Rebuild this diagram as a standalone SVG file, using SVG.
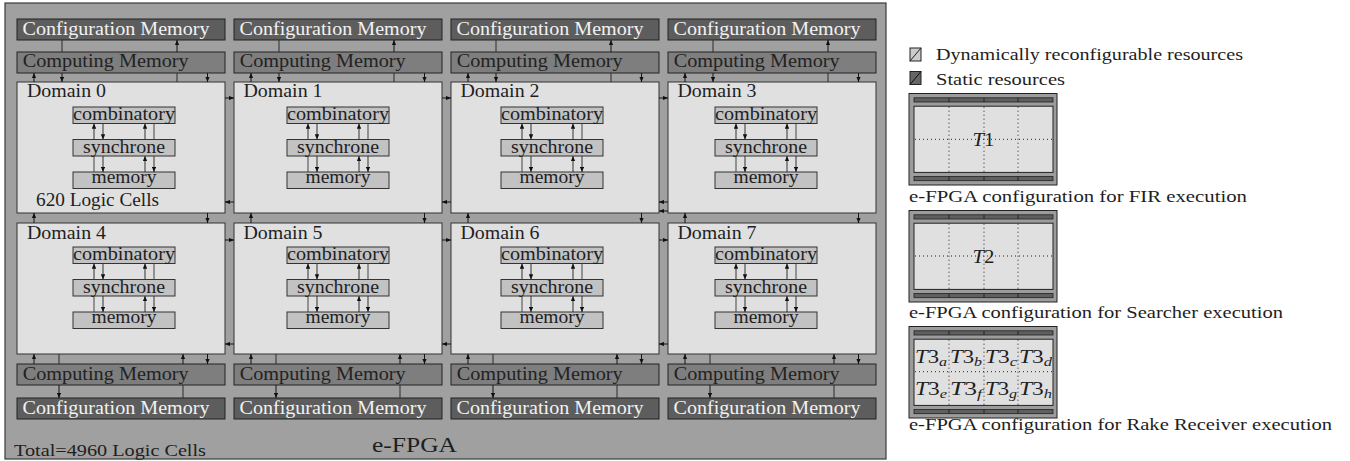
<svg xmlns="http://www.w3.org/2000/svg" xmlns:xlink="http://www.w3.org/1999/xlink" width="1350" height="461" viewBox="0 0 1350 461" font-family="'Liberation Serif', 'DejaVu Serif', serif">
<style>
text{font-family:'Liberation Serif','DejaVu Serif',serif;fill:#1e1e1e}
.efpga{fill:#a0a0a0;stroke:#3a3a3a;stroke-width:1.2}
.cfg{fill:#5d5d5d;stroke:#222;stroke-width:1}
.cmp{fill:#7e7e7e;stroke:#222;stroke-width:1}
.dom{fill:#e0e0e0;stroke:#333;stroke-width:1}
.blk{fill:#c2c2c2;stroke:#333;stroke-width:1}
.tcfg{fill:#f2f2f2;font-size:18.5px}
.tcmp{fill:#222;font-size:18.5px}
.tdom{font-size:18.5px}
.tblk{font-size:18px}
.tleg{font-size:16.5px}
.t3{font-size:18.5px}
.a{stroke:#151515;stroke-width:1;marker-end:url(#ah)}
.p{stroke:#2a2a2a;stroke-width:1}
.ia{stroke:#333;stroke-width:1;marker-end:url(#ah)}
.ip{stroke:#444;stroke-width:1}
.tb{fill:#9c9c9c;stroke:#222;stroke-width:1}
.ts{fill:#5f5f5f;stroke:#222;stroke-width:0.8}
.tm{fill:#e0e0e0;stroke:#222;stroke-width:1}
.dot{stroke:#222;stroke-width:1;stroke-dasharray:1 3}
.tick{stroke:#222;stroke-width:1}
</style>
<defs>
<marker id="ah" viewBox="0 0 6 5" refX="6" refY="2.5" markerWidth="5.5" markerHeight="4.4" markerUnits="userSpaceOnUse" orient="auto"><path d="M0,0 L6,2.5 L0,5 z" fill="#111"/></marker>
<g id="inner">
<line x1="21" y1="65" x2="21" y2="49" class="ip"/>
<line x1="21" y1="32.5" x2="21" y2="16.5" class="ia"/>
<line x1="30" y1="16.5" x2="30" y2="32.5" class="ia"/>
<line x1="30" y1="49" x2="30" y2="65" class="ia"/>
<line x1="72" y1="32.5" x2="72" y2="16.5" class="ia"/>
<line x1="72" y1="65" x2="72" y2="49" class="ia"/>
<line x1="81" y1="16.5" x2="81" y2="32.5" class="ip"/>
<line x1="81" y1="49" x2="81" y2="65" class="ia"/>
</g>
<g id="tstrips">
<rect x="914" y="4.3" width="139" height="4.2" class="ts"/>
<rect x="914" y="83" width="139" height="4.2" class="ts"/>
<line x1="949" y1="4.3" x2="949" y2="8.5" class="tick"/><line x1="984" y1="4.3" x2="984" y2="8.5" class="tick"/><line x1="1018" y1="4.3" x2="1018" y2="8.5" class="tick"/>
<line x1="949" y1="83" x2="949" y2="87.2" class="tick"/><line x1="984" y1="83" x2="984" y2="87.2" class="tick"/><line x1="1018" y1="83" x2="1018" y2="87.2" class="tick"/>
</g>
</defs>

<g id="efpga">
<rect x="5" y="3" width="881" height="456" class="efpga"/>
<text x="14" y="456" font-size="17" textLength="192" lengthAdjust="spacingAndGlyphs">Total=4960 Logic Cells</text>
<text x="372" y="452" font-size="22" textLength="85" lengthAdjust="spacingAndGlyphs">e-FPGA</text>
</g>

<g id="cfg-top-0"><rect x="17" y="19" width="208" height="21" class="cfg"/><text x="22.5" y="34.5" class="tcfg" textLength="187" lengthAdjust="spacingAndGlyphs">Configuration Memory</text></g>
<g id="cfg-top-1"><rect x="234" y="19" width="208" height="21" class="cfg"/><text x="239.5" y="34.5" class="tcfg" textLength="187" lengthAdjust="spacingAndGlyphs">Configuration Memory</text></g>
<g id="cfg-top-2"><rect x="451" y="19" width="208" height="21" class="cfg"/><text x="456.5" y="34.5" class="tcfg" textLength="187" lengthAdjust="spacingAndGlyphs">Configuration Memory</text></g>
<g id="cfg-top-3"><rect x="668" y="19" width="208" height="21" class="cfg"/><text x="673.5" y="34.5" class="tcfg" textLength="187" lengthAdjust="spacingAndGlyphs">Configuration Memory</text></g>
<g id="cmp-top-0"><rect x="17" y="52" width="208" height="21" class="cmp"/><text x="22.7" y="67" class="tcmp" textLength="166" lengthAdjust="spacingAndGlyphs">Computing Memory</text></g>
<g id="cmp-top-1"><rect x="234" y="52" width="208" height="21" class="cmp"/><text x="239.7" y="67" class="tcmp" textLength="166" lengthAdjust="spacingAndGlyphs">Computing Memory</text></g>
<g id="cmp-top-2"><rect x="451" y="52" width="208" height="21" class="cmp"/><text x="456.7" y="67" class="tcmp" textLength="166" lengthAdjust="spacingAndGlyphs">Computing Memory</text></g>
<g id="cmp-top-3"><rect x="668" y="52" width="208" height="21" class="cmp"/><text x="673.7" y="67" class="tcmp" textLength="166" lengthAdjust="spacingAndGlyphs">Computing Memory</text></g>
<g id="cmp-bot-4"><rect x="17" y="364" width="208" height="21" class="cmp"/><text x="22.7" y="380" class="tcmp" textLength="166" lengthAdjust="spacingAndGlyphs">Computing Memory</text></g>
<g id="cmp-bot-5"><rect x="234" y="364" width="208" height="21" class="cmp"/><text x="239.7" y="380" class="tcmp" textLength="166" lengthAdjust="spacingAndGlyphs">Computing Memory</text></g>
<g id="cmp-bot-6"><rect x="451" y="364" width="208" height="21" class="cmp"/><text x="456.7" y="380" class="tcmp" textLength="166" lengthAdjust="spacingAndGlyphs">Computing Memory</text></g>
<g id="cmp-bot-7"><rect x="668" y="364" width="208" height="21" class="cmp"/><text x="673.7" y="380" class="tcmp" textLength="166" lengthAdjust="spacingAndGlyphs">Computing Memory</text></g>
<g id="cfg-bot-4"><rect x="17" y="398" width="208" height="21" class="cfg"/><text x="22.5" y="413.5" class="tcfg" textLength="187" lengthAdjust="spacingAndGlyphs">Configuration Memory</text></g>
<g id="cfg-bot-5"><rect x="234" y="398" width="208" height="21" class="cfg"/><text x="239.5" y="413.5" class="tcfg" textLength="187" lengthAdjust="spacingAndGlyphs">Configuration Memory</text></g>
<g id="cfg-bot-6"><rect x="451" y="398" width="208" height="21" class="cfg"/><text x="456.5" y="413.5" class="tcfg" textLength="187" lengthAdjust="spacingAndGlyphs">Configuration Memory</text></g>
<g id="cfg-bot-7"><rect x="668" y="398" width="208" height="21" class="cfg"/><text x="673.5" y="413.5" class="tcfg" textLength="187" lengthAdjust="spacingAndGlyphs">Configuration Memory</text></g>

<g id="domain-0"><rect x="17" y="82" width="208" height="131" class="dom"/><text x="27" y="97" class="tdom" textLength="79" lengthAdjust="spacingAndGlyphs">Domain 0</text><text x="36" y="206" class="tdom" textLength="123" lengthAdjust="spacingAndGlyphs">620 Logic Cells</text>
<rect x="73" y="107" width="102" height="16.5" class="blk"/><text x="124" y="120.3" text-anchor="middle" class="tblk" textLength="102" lengthAdjust="spacingAndGlyphs">combinatory</text>
<rect x="73" y="139.5" width="102" height="16.5" class="blk"/><text x="124" y="152.7" text-anchor="middle" class="tblk" textLength="82" lengthAdjust="spacingAndGlyphs">synchrone</text>
<rect x="73" y="172" width="102" height="16.5" class="blk"/><text x="124" y="183.3" text-anchor="middle" class="tblk" textLength="65" lengthAdjust="spacingAndGlyphs">memory</text></g>
<g id="domain-1"><rect x="234" y="82" width="208" height="131" class="dom"/><text x="243.5" y="97" class="tdom" textLength="79" lengthAdjust="spacingAndGlyphs">Domain 1</text>
<rect x="287" y="107" width="102" height="16.5" class="blk"/><text x="338" y="120.3" text-anchor="middle" class="tblk" textLength="102" lengthAdjust="spacingAndGlyphs">combinatory</text>
<rect x="287" y="139.5" width="102" height="16.5" class="blk"/><text x="338" y="152.7" text-anchor="middle" class="tblk" textLength="82" lengthAdjust="spacingAndGlyphs">synchrone</text>
<rect x="287" y="172" width="102" height="16.5" class="blk"/><text x="338" y="183.3" text-anchor="middle" class="tblk" textLength="65" lengthAdjust="spacingAndGlyphs">memory</text></g>
<g id="domain-2"><rect x="451" y="82" width="208" height="131" class="dom"/><text x="460.5" y="97" class="tdom" textLength="79" lengthAdjust="spacingAndGlyphs">Domain 2</text>
<rect x="501" y="107" width="102" height="16.5" class="blk"/><text x="552" y="120.3" text-anchor="middle" class="tblk" textLength="102" lengthAdjust="spacingAndGlyphs">combinatory</text>
<rect x="501" y="139.5" width="102" height="16.5" class="blk"/><text x="552" y="152.7" text-anchor="middle" class="tblk" textLength="82" lengthAdjust="spacingAndGlyphs">synchrone</text>
<rect x="501" y="172" width="102" height="16.5" class="blk"/><text x="552" y="183.3" text-anchor="middle" class="tblk" textLength="65" lengthAdjust="spacingAndGlyphs">memory</text></g>
<g id="domain-3"><rect x="668" y="82" width="208" height="131" class="dom"/><text x="677.5" y="97" class="tdom" textLength="79" lengthAdjust="spacingAndGlyphs">Domain 3</text>
<rect x="715" y="107" width="102" height="16.5" class="blk"/><text x="766" y="120.3" text-anchor="middle" class="tblk" textLength="102" lengthAdjust="spacingAndGlyphs">combinatory</text>
<rect x="715" y="139.5" width="102" height="16.5" class="blk"/><text x="766" y="152.7" text-anchor="middle" class="tblk" textLength="82" lengthAdjust="spacingAndGlyphs">synchrone</text>
<rect x="715" y="172" width="102" height="16.5" class="blk"/><text x="766" y="183.3" text-anchor="middle" class="tblk" textLength="65" lengthAdjust="spacingAndGlyphs">memory</text></g>
<g id="domain-4"><rect x="17" y="223" width="208" height="131" class="dom"/><text x="27" y="239" class="tdom" textLength="79" lengthAdjust="spacingAndGlyphs">Domain 4</text>
<rect x="73" y="247" width="102" height="16.5" class="blk"/><text x="124" y="260.3" text-anchor="middle" class="tblk" textLength="102" lengthAdjust="spacingAndGlyphs">combinatory</text>
<rect x="73" y="279.5" width="102" height="16.5" class="blk"/><text x="124" y="292.7" text-anchor="middle" class="tblk" textLength="82" lengthAdjust="spacingAndGlyphs">synchrone</text>
<rect x="73" y="312" width="102" height="16.5" class="blk"/><text x="124" y="323.3" text-anchor="middle" class="tblk" textLength="65" lengthAdjust="spacingAndGlyphs">memory</text></g>
<g id="domain-5"><rect x="234" y="223" width="208" height="131" class="dom"/><text x="243.5" y="239" class="tdom" textLength="79" lengthAdjust="spacingAndGlyphs">Domain 5</text>
<rect x="287" y="247" width="102" height="16.5" class="blk"/><text x="338" y="260.3" text-anchor="middle" class="tblk" textLength="102" lengthAdjust="spacingAndGlyphs">combinatory</text>
<rect x="287" y="279.5" width="102" height="16.5" class="blk"/><text x="338" y="292.7" text-anchor="middle" class="tblk" textLength="82" lengthAdjust="spacingAndGlyphs">synchrone</text>
<rect x="287" y="312" width="102" height="16.5" class="blk"/><text x="338" y="323.3" text-anchor="middle" class="tblk" textLength="65" lengthAdjust="spacingAndGlyphs">memory</text></g>
<g id="domain-6"><rect x="451" y="223" width="208" height="131" class="dom"/><text x="460.5" y="239" class="tdom" textLength="79" lengthAdjust="spacingAndGlyphs">Domain 6</text>
<rect x="501" y="247" width="102" height="16.5" class="blk"/><text x="552" y="260.3" text-anchor="middle" class="tblk" textLength="102" lengthAdjust="spacingAndGlyphs">combinatory</text>
<rect x="501" y="279.5" width="102" height="16.5" class="blk"/><text x="552" y="292.7" text-anchor="middle" class="tblk" textLength="82" lengthAdjust="spacingAndGlyphs">synchrone</text>
<rect x="501" y="312" width="102" height="16.5" class="blk"/><text x="552" y="323.3" text-anchor="middle" class="tblk" textLength="65" lengthAdjust="spacingAndGlyphs">memory</text></g>
<g id="domain-7"><rect x="668" y="223" width="208" height="131" class="dom"/><text x="677.5" y="239" class="tdom" textLength="79" lengthAdjust="spacingAndGlyphs">Domain 7</text>
<rect x="715" y="247" width="102" height="16.5" class="blk"/><text x="766" y="260.3" text-anchor="middle" class="tblk" textLength="102" lengthAdjust="spacingAndGlyphs">combinatory</text>
<rect x="715" y="279.5" width="102" height="16.5" class="blk"/><text x="766" y="292.7" text-anchor="middle" class="tblk" textLength="82" lengthAdjust="spacingAndGlyphs">synchrone</text>
<rect x="715" y="312" width="102" height="16.5" class="blk"/><text x="766" y="323.3" text-anchor="middle" class="tblk" textLength="65" lengthAdjust="spacingAndGlyphs">memory</text></g>

<g id="connectors">
<line x1="62" y1="40" x2="62" y2="52" class="p"/><line x1="177" y1="52" x2="177" y2="40" class="a"/>
<line x1="34" y1="82" x2="34" y2="73" class="a"/><line x1="62" y1="73" x2="62" y2="82" class="a"/><line x1="177" y1="73" x2="177" y2="82" class="p"/><line x1="207.5" y1="73" x2="207.5" y2="82" class="a"/>
<line x1="279" y1="40" x2="279" y2="52" class="p"/><line x1="394" y1="52" x2="394" y2="40" class="a"/>
<line x1="251" y1="82" x2="251" y2="73" class="a"/><line x1="279" y1="73" x2="279" y2="82" class="a"/><line x1="394" y1="73" x2="394" y2="82" class="p"/><line x1="424.5" y1="73" x2="424.5" y2="82" class="a"/>
<line x1="496" y1="40" x2="496" y2="52" class="p"/><line x1="611" y1="52" x2="611" y2="40" class="a"/>
<line x1="468" y1="82" x2="468" y2="73" class="a"/><line x1="496" y1="73" x2="496" y2="82" class="a"/><line x1="611" y1="73" x2="611" y2="82" class="p"/><line x1="641.5" y1="73" x2="641.5" y2="82" class="a"/>
<line x1="713" y1="40" x2="713" y2="52" class="p"/><line x1="828" y1="52" x2="828" y2="40" class="a"/>
<line x1="685" y1="82" x2="685" y2="73" class="a"/><line x1="713" y1="73" x2="713" y2="82" class="a"/><line x1="828" y1="73" x2="828" y2="82" class="p"/><line x1="858.5" y1="73" x2="858.5" y2="82" class="a"/>
<line x1="34" y1="223" x2="34" y2="213" class="a"/><line x1="207.5" y1="213" x2="207.5" y2="223" class="a"/>
<line x1="251" y1="223" x2="251" y2="213" class="a"/><line x1="424.5" y1="213" x2="424.5" y2="223" class="a"/>
<line x1="468" y1="223" x2="468" y2="213" class="a"/><line x1="641.5" y1="213" x2="641.5" y2="223" class="a"/>
<line x1="685" y1="223" x2="685" y2="213" class="a"/><line x1="858.5" y1="213" x2="858.5" y2="223" class="a"/>
<line x1="34" y1="364" x2="34" y2="354" class="a"/><line x1="59" y1="354" x2="59" y2="364" class="p"/><line x1="183" y1="364" x2="183" y2="354" class="a"/><line x1="207.5" y1="354" x2="207.5" y2="364" class="a"/>
<line x1="59" y1="385" x2="59" y2="398" class="a"/><line x1="183" y1="385" x2="183" y2="398" class="p"/>
<line x1="251" y1="364" x2="251" y2="354" class="a"/><line x1="276" y1="354" x2="276" y2="364" class="p"/><line x1="400" y1="364" x2="400" y2="354" class="a"/><line x1="424.5" y1="354" x2="424.5" y2="364" class="a"/>
<line x1="276" y1="385" x2="276" y2="398" class="a"/><line x1="400" y1="385" x2="400" y2="398" class="p"/>
<line x1="468" y1="364" x2="468" y2="354" class="a"/><line x1="493" y1="354" x2="493" y2="364" class="p"/><line x1="617" y1="364" x2="617" y2="354" class="a"/><line x1="641.5" y1="354" x2="641.5" y2="364" class="a"/>
<line x1="493" y1="385" x2="493" y2="398" class="a"/><line x1="617" y1="385" x2="617" y2="398" class="p"/>
<line x1="685" y1="364" x2="685" y2="354" class="a"/><line x1="710" y1="354" x2="710" y2="364" class="p"/><line x1="834" y1="364" x2="834" y2="354" class="a"/><line x1="858.5" y1="354" x2="858.5" y2="364" class="a"/>
<line x1="710" y1="385" x2="710" y2="398" class="a"/><line x1="834" y1="385" x2="834" y2="398" class="p"/>
<line x1="225" y1="98" x2="234" y2="98" class="a"/><line x1="234" y1="202" x2="225" y2="202" class="a"/>
<line x1="442" y1="98" x2="451" y2="98" class="a"/><line x1="451" y1="202" x2="442" y2="202" class="a"/>
<line x1="659" y1="98" x2="668" y2="98" class="a"/><line x1="668" y1="202" x2="659" y2="202" class="a"/><line x1="668" y1="211" x2="659" y2="211" class="a"/>
<line x1="225" y1="240" x2="234" y2="240" class="a"/><line x1="234" y1="344" x2="225" y2="344" class="a"/>
<line x1="442" y1="240" x2="451" y2="240" class="a"/><line x1="451" y1="344" x2="442" y2="344" class="a"/>
<line x1="659" y1="240" x2="668" y2="240" class="a"/><line x1="668" y1="344" x2="659" y2="344" class="a"/>
<use xlink:href="#inner" href="#inner" x="73" y="107"/>
<use xlink:href="#inner" href="#inner" x="287" y="107"/>
<use xlink:href="#inner" href="#inner" x="501" y="107"/>
<use xlink:href="#inner" href="#inner" x="715" y="107"/>
<use xlink:href="#inner" href="#inner" x="73" y="247"/>
<use xlink:href="#inner" href="#inner" x="287" y="247"/>
<use xlink:href="#inner" href="#inner" x="501" y="247"/>
<use xlink:href="#inner" href="#inner" x="715" y="247"/>
</g>

<g id="legend">
<rect x="910" y="48" width="11" height="13" fill="#cccccc" stroke="#222" stroke-width="1"/><line x1="910" y1="61" x2="921" y2="48" stroke="#222" stroke-width="1"/>
<text x="936" y="60" class="tleg" textLength="307" lengthAdjust="spacingAndGlyphs">Dynamically reconfigurable resources</text>
<rect x="910" y="71.5" width="11" height="13" fill="#666" stroke="#222" stroke-width="1"/><line x1="910" y1="84.5" x2="921" y2="71.5" stroke="#111" stroke-width="1"/>
<text x="936" y="85" class="tleg" textLength="129" lengthAdjust="spacingAndGlyphs">Static resources</text>
</g>

<g id="config-fir">
<rect x="909" y="93.5" width="148" height="91.5" class="tb"/>
<use xlink:href="#tstrips" href="#tstrips" y="93.5"/>
<rect x="914" y="106.2" width="139" height="66.2" class="tm"/>
<line x1="949" y1="106.7" x2="949" y2="172" class="dot"/><line x1="984" y1="106.7" x2="984" y2="172" class="dot"/><line x1="1018" y1="106.7" x2="1018" y2="172" class="dot"/>
<line x1="915" y1="139.3" x2="1052" y2="139.3" class="dot"/>
<text x="983.5" y="146" text-anchor="middle" font-size="19" textLength="22" lengthAdjust="spacingAndGlyphs"><tspan font-style="italic">T</tspan>1</text>
<text x="909" y="201.5" class="tleg" textLength="338" lengthAdjust="spacingAndGlyphs">e-FPGA configuration for FIR execution</text>
</g>

<g id="config-searcher">
<rect x="909" y="210.5" width="148" height="91.5" class="tb"/>
<use xlink:href="#tstrips" href="#tstrips" y="210.5"/>
<rect x="914" y="223.2" width="139" height="66.2" class="tm"/>
<line x1="949" y1="223.7" x2="949" y2="289" class="dot"/><line x1="984" y1="223.7" x2="984" y2="289" class="dot"/><line x1="1018" y1="223.7" x2="1018" y2="289" class="dot"/>
<line x1="915" y1="256" x2="1052" y2="256" class="dot"/>
<text x="983.5" y="262.7" text-anchor="middle" font-size="19" textLength="22" lengthAdjust="spacingAndGlyphs"><tspan font-style="italic">T</tspan>2</text>
<text x="909" y="318.3" class="tleg" textLength="374" lengthAdjust="spacingAndGlyphs">e-FPGA configuration for Searcher execution</text>
</g>

<g id="config-rake">
<rect x="909" y="326.5" width="148" height="91.5" class="tb"/>
<use xlink:href="#tstrips" href="#tstrips" y="326.5"/>
<rect x="914" y="339.2" width="139" height="66.2" class="tm"/>
<line x1="949" y1="339.7" x2="949" y2="405" class="dot"/><line x1="984" y1="339.7" x2="984" y2="405" class="dot"/><line x1="1018" y1="339.7" x2="1018" y2="405" class="dot"/>
<line x1="915" y1="371.7" x2="1052" y2="371.7" class="dot"/>
<text x="915" y="363" class="t3" textLength="32" lengthAdjust="spacingAndGlyphs"><tspan font-style="italic">T</tspan>3<tspan font-style="italic" font-size="13" dy="3">a</tspan></text>
<text x="950" y="363" class="t3" textLength="32" lengthAdjust="spacingAndGlyphs"><tspan font-style="italic">T</tspan>3<tspan font-style="italic" font-size="13" dy="3">b</tspan></text>
<text x="985" y="363" class="t3" textLength="32" lengthAdjust="spacingAndGlyphs"><tspan font-style="italic">T</tspan>3<tspan font-style="italic" font-size="13" dy="3">c</tspan></text>
<text x="1019" y="363" class="t3" textLength="33" lengthAdjust="spacingAndGlyphs"><tspan font-style="italic">T</tspan>3<tspan font-style="italic" font-size="13" dy="3">d</tspan></text>
<text x="915" y="395" class="t3" textLength="32" lengthAdjust="spacingAndGlyphs"><tspan font-style="italic">T</tspan>3<tspan font-style="italic" font-size="13" dy="3">e</tspan></text>
<text x="950" y="395" class="t3" textLength="32" lengthAdjust="spacingAndGlyphs"><tspan font-style="italic">T</tspan>3<tspan font-style="italic" font-size="13" dy="3">f</tspan></text>
<text x="985" y="395" class="t3" textLength="32" lengthAdjust="spacingAndGlyphs"><tspan font-style="italic">T</tspan>3<tspan font-style="italic" font-size="13" dy="3">g</tspan></text>
<text x="1019" y="395" class="t3" textLength="33" lengthAdjust="spacingAndGlyphs"><tspan font-style="italic">T</tspan>3<tspan font-style="italic" font-size="13" dy="3">h</tspan></text>
<text x="909" y="430" class="tleg" textLength="423" lengthAdjust="spacingAndGlyphs">e-FPGA configuration for Rake Receiver execution</text>
</g>
</svg>
